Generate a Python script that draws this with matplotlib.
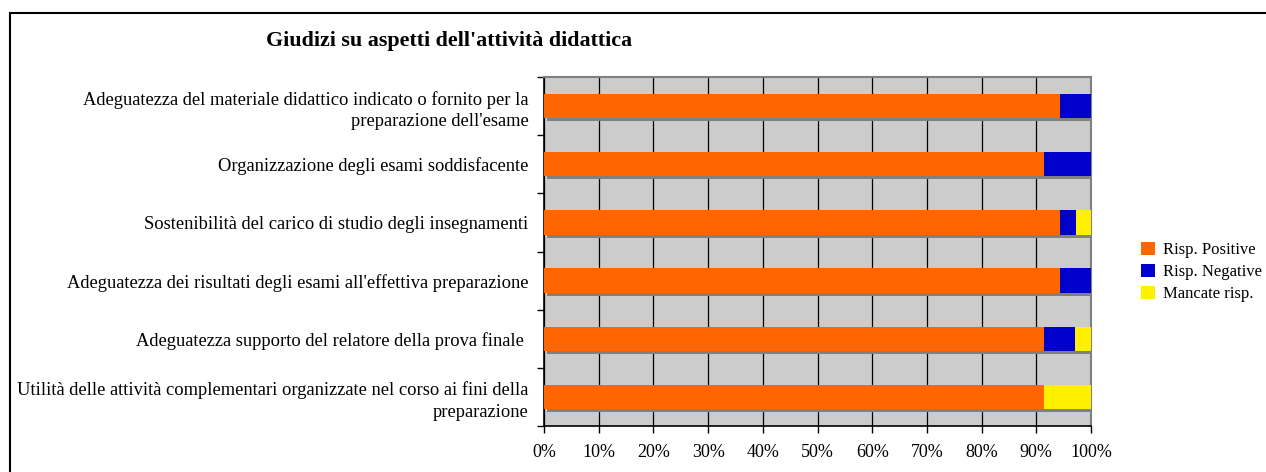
import numpy as np
import matplotlib.pyplot as plt
from matplotlib.patches import Rectangle, Patch

# Data (percentages)
categories = [
    "Adeguatezza del materiale didattico indicato o fornito per la\npreparazione dell'esame",
    "Organizzazione degli esami soddisfacente",
    "Sostenibilità del carico di studio degli insegnamenti",
    "Adeguatezza dei risultati degli esami all'effettiva preparazione",
    "Adeguatezza supporto del relatore della prova finale ",
    "Utilità delle attività complementari organizzate nel corso ai fini della\npreparazione",
]
positive = [94.3, 91.4, 94.3, 94.3, 91.4, 91.4]
negative = [5.7, 8.6, 2.9, 5.7, 5.7, 0.0]
missing = [0.0, 0.0, 2.9, 0.0, 2.9, 8.6]
series_names = ["Risp. Positive", "Risp. Negative", "Mancate risp."]
colors = ["#FF6600", "#0000CC", "#FFF000"]

plt.rcParams['font.family'] = ['Liberation Serif', 'DejaVu Serif']

fig = plt.figure(figsize=(12.66, 4.72), dpi=100)
ax = fig.add_axes([544 / 1266, 1 - 426 / 472, 547 / 1266, 349 / 472])

# outer chart border
fig.patches.append(Rectangle((10 / 1266, -0.1), 1.2, 1 - 13 / 472 + 0.1,
                             transform=fig.transFigure, fill=False,
                             edgecolor="black", linewidth=1.5))

ax.set_facecolor("#CCCCCC")
y = np.arange(len(categories))
h = 0.42

# bar shadows
totals = np.array(positive) + np.array(negative) + np.array(missing)
ax.barh(y + 0.05, totals, left=0.55, height=h, color="#808080", zorder=2)

left = np.zeros(len(categories))
for vals, col in zip([positive, negative, missing], colors):
    ax.barh(y, vals, left=left, height=h, color=col, zorder=3)
    left += np.array(vals)

ax.set_xlim(0, 100)
ax.set_ylim(len(categories) - 0.5, -0.5)
ax.set_xticks(np.arange(0, 101, 10))
ax.set_xticklabels([f"{v}%" for v in range(0, 101, 10)], fontsize=13)
ax.xaxis.grid(True, color="black", linewidth=0.9, zorder=1)
ax.set_axisbelow(True)

ax.set_yticks(y)
ax.set_yticklabels(categories, fontsize=13.3, linespacing=1.35)
ax.set_yticks(np.arange(-0.5, len(categories) + 0.5, 1), minor=True)
ax.tick_params(axis="y", which="major", length=0, pad=11)
ax.tick_params(axis="y", which="minor", length=5, width=1)
ax.tick_params(axis="x", length=5, width=1, pad=8)

for s in ["top", "right"]:
    ax.spines[s].set_color("#808080")
    ax.spines[s].set_linewidth(1.5)
ax.spines["left"].set_linewidth(1.2)
ax.spines["bottom"].set_linewidth(1.2)

fig.text(449 / 1266, 1 - 41 / 472, "Giudizi su aspetti dell'attività didattica",
         ha="center", va="center", fontsize=15.8, fontweight="bold")

handles = [Patch(facecolor=c, edgecolor="none") for c in colors]
fig.legend(handles, series_names, loc="center left",
           bbox_to_anchor=(1141 / 1266, 1 - 272 / 472), frameon=False,
           borderpad=0, borderaxespad=0,
           fontsize=12, handlelength=0.85, handleheight=0.85,
           handletextpad=0.45, labelspacing=0.35)

fig.savefig("out.png", dpi=100)
